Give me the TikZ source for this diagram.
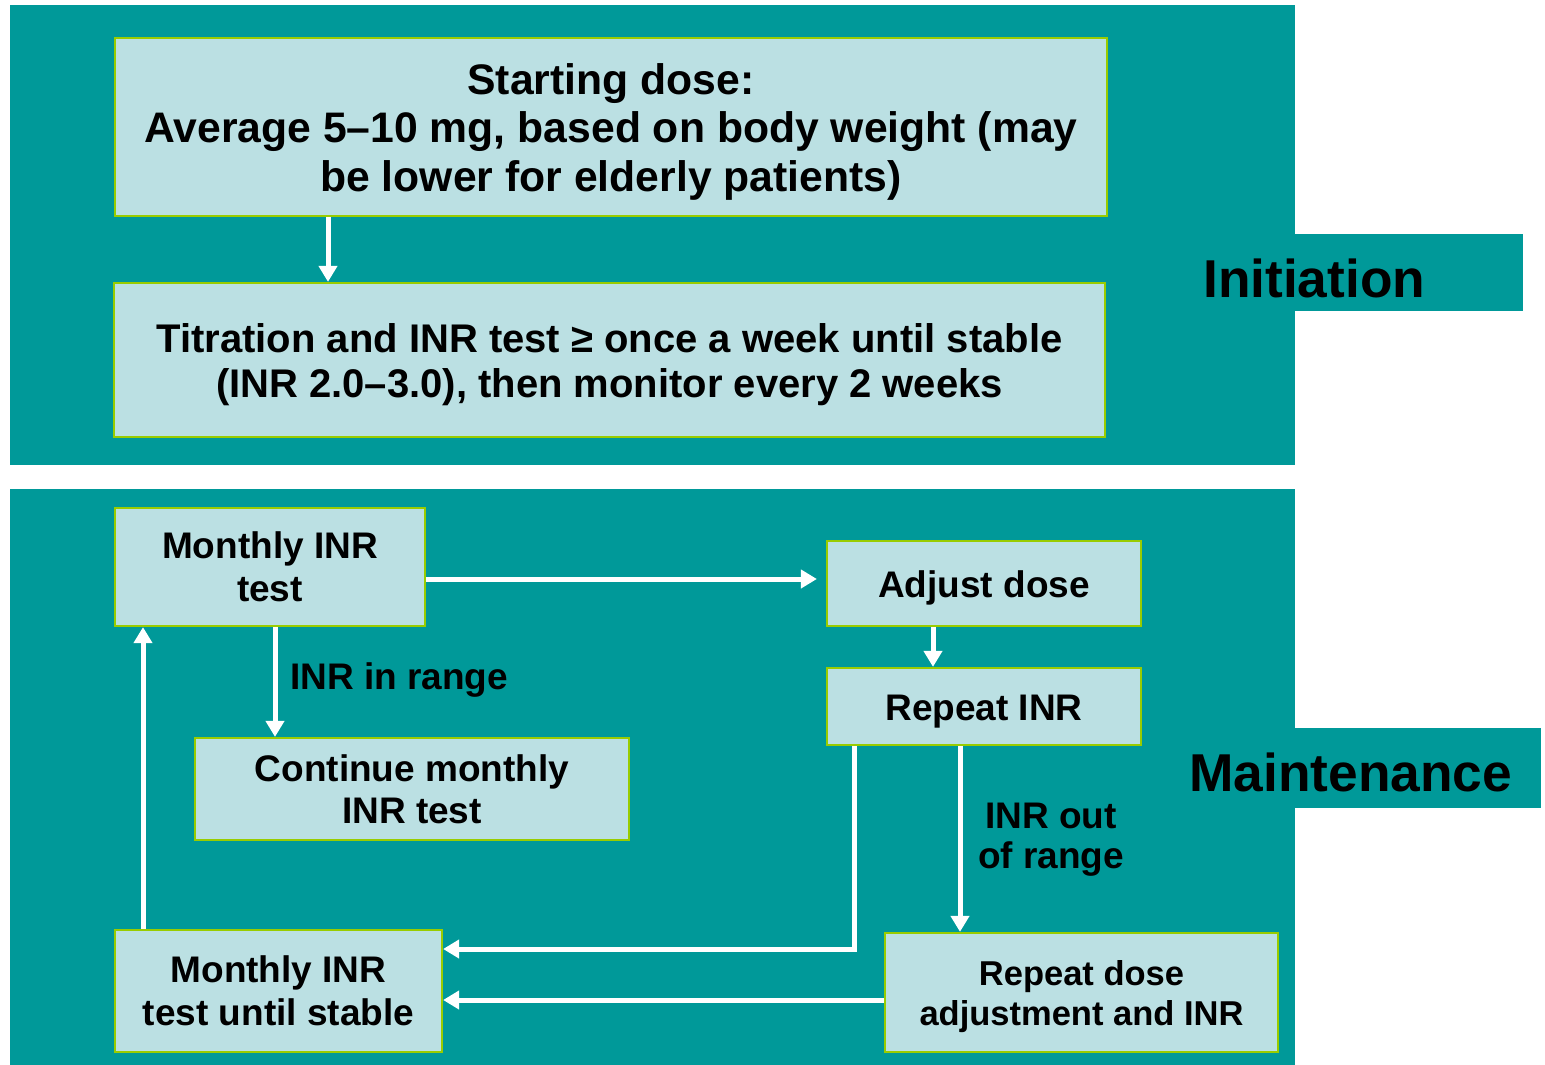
\documentclass[tikz,border=0pt]{standalone}
\usepackage{fontspec}
\setmainfont{Liberation Sans}
\usetikzlibrary{arrows.meta}
\definecolor{teal0}{HTML}{009999}
\definecolor{boxfill}{HTML}{BBE0E3}
\definecolor{boxline}{HTML}{99CC00}
% extra space above the first line, to lower the text a little in its box
\newcommand\topgap{\raisebox{9pt}{\vphantom{(Mdl}}}
\begin{document}
\begin{tikzpicture}[x=1pt,y=-1pt,
  box/.style={draw=boxline,line width=2.2pt,fill=boxfill,inner sep=0pt,align=center,font=\bfseries\fontsize{37}{43}\selectfont},
  arr/.style={draw=white,line width=5pt,-{Triangle[width=18pt,length=16pt]}},
  lbl/.style={inner sep=0pt,align=center,font=\bfseries\fontsize{37}{40}\selectfont},
  tab/.style={inner sep=0pt,font=\bfseries\fontsize{53.3}{60}\selectfont}]
\useasboundingbox (0,0) rectangle (1545,1065);
% panels
\fill[teal0] (10,5) rectangle (1295,465);
\fill[teal0] (1295,234) rectangle (1523,311);
\fill[teal0] (10,489) rectangle (1295,1065);
\fill[teal0] (1295,728) rectangle (1541,808);
\node[tab,anchor=west] (tinit) at (1203,278) {Initiation};
\node[tab,anchor=west] (tmaint) at (1189,772) {Maintenance};
% boxes
\node[box,minimum width=992pt,minimum height=178pt,font=\bfseries\fontsize{42.7}{48.5}\selectfont] (start) at (611,127)
  {\topgap Starting dose:\\Average 5–10 mg, based on body weight (may\\be lower for elderly patients)};
\node[box,minimum width=991pt,minimum height=154pt,font=\bfseries\fontsize{40}{45}\selectfont] (titr) at (609.5,360)
  {\topgap Titration and INR test ≥ once a week until stable\\(INR 2.0–3.0), then monitor every 2 weeks};
\node[box,minimum width=310pt,minimum height=118pt] (mon) at (270,567) {Monthly INR\\test};
\node[box,minimum width=314pt,minimum height=85pt] (adj) at (984,583.5) {\topgap Adjust dose};
\node[box,minimum width=314pt,minimum height=77pt] (rep) at (984,706.5) {\topgap Repeat INR};
\node[box,minimum width=434pt,minimum height=102pt,font=\bfseries\fontsize{37}{42}\selectfont] (cont) at (412,789) {Continue monthly\\INR test};
\node[box,minimum width=327pt,minimum height=122pt] (stab) at (278.5,991) {Monthly INR\\test until stable};
\node[box,minimum width=393pt,minimum height=119pt,font=\bfseries\fontsize{34.5}{40}\selectfont] (rda) at (1081.5,992.5) {\topgap Repeat dose\\adjustment and INR};
% labels
\node[lbl,anchor=west] (linr) at (290,680) {INR in range};
\node[lbl] (lout) at (1051,840) {INR out\\of range};
% helper coordinates
\coordinate (xa) at (328,0);
\coordinate (xb) at (933,0);
\coordinate (xc) at (275,0);
\coordinate (xd) at (960,0);
\coordinate (xe) at (854,0);
\coordinate (xf) at (143,0);
\coordinate (ya) at (0,579);
\coordinate (yb) at (0,949);
\coordinate (yc) at (0,1000);
% connectors
\draw[arr] (start.south -| xa) -- (titr.north -| xa);
\draw[arr,shorten >=9pt] (mon.east |- ya) -- (adj.west |- ya);
\draw[arr] (adj.south -| xb) -- (rep.north -| xb);
\draw[arr] (mon.south -| xc) -- (cont.north -| xc);
\draw[arr] (rep.south -| xd) -- (rda.north -| xd);
\draw[arr] (rep.south -| xe) |- (stab.east |- yb);
\draw[arr] (rda.west |- yc) -- (stab.east |- yc);
\draw[arr] (stab.north -| xf) -- (mon.south -| xf);
\end{tikzpicture}
\end{document}
